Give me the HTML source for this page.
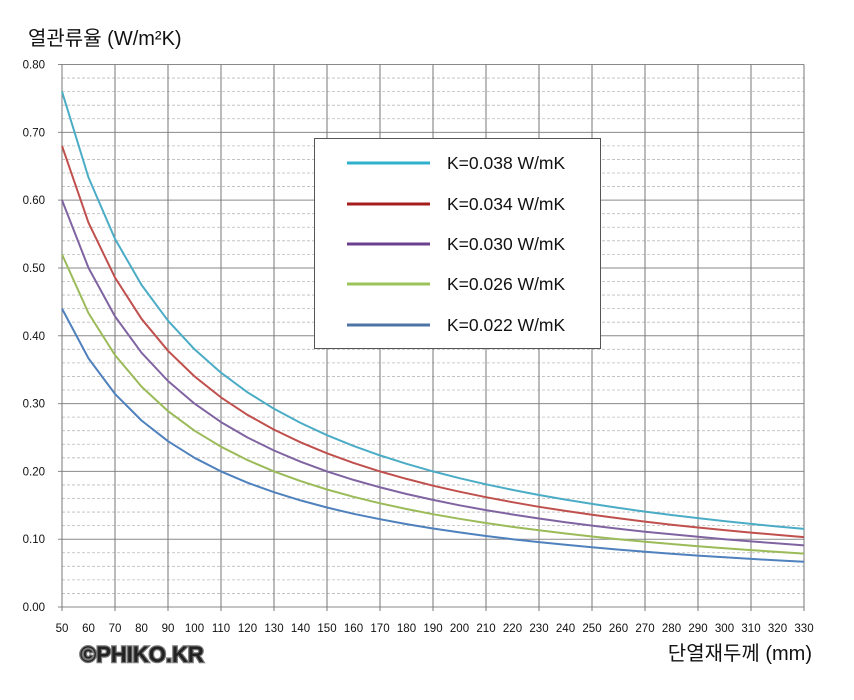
<!DOCTYPE html>
<html><head><meta charset="utf-8"><style>
body{margin:0;background:#fff;}
svg{display:block;font-family:"Liberation Sans","Noto Sans CJK KR",sans-serif;}
</style></head><body>
<svg id="s" width="854" height="700" viewBox="0 0 854 700" xmlns="http://www.w3.org/2000/svg">
<rect width="854" height="700" fill="#fff"/>
<g id="grid"></g>
<g id="series" fill="none" stroke-width="2" stroke-linejoin="round"></g>
<text x="28" y="45" font-size="20" fill="#111">열관류율 (W/m²K)</text>
<text x="812" y="660" font-size="20" fill="#111" text-anchor="end">단열재두께 (mm)</text>
<text x="80" y="662" font-size="22" font-weight="bold" fill="#222" stroke="#777" stroke-width="2.5" paint-order="stroke" font-family="Liberation Sans, sans-serif">©PHIKO.KR</text>
<rect x="314.5" y="138.5" width="286" height="210" fill="#fff" stroke="#555" stroke-width="1"/>
<g stroke-width="3">
<line x1="347" y1="163" x2="430" y2="163" stroke="#2fb0cf"/>
<line x1="347" y1="204" x2="430" y2="204" stroke="#a51c1c"/>
<line x1="347" y1="244" x2="430" y2="244" stroke="#6a3f8e"/>
<line x1="347" y1="284" x2="430" y2="284" stroke="#9bc35a"/>
<line x1="347" y1="325" x2="430" y2="325" stroke="#4e74a6"/>
</g>
<g font-size="17.5" fill="#111" xml:space="preserve">
<text x="447" y="169">K=0.038  W/mK</text>
<text x="447" y="210">K=0.034  W/mK</text>
<text x="447" y="250">K=0.030  W/mK</text>
<text x="447" y="290">K=0.026  W/mK</text>
<text x="447" y="331">K=0.022  W/mK</text>
</g>
</svg>
<script>
var X0=62,X1=804,Y0=607,Y1=64.5;
function fx(t){return X0+(t-50)/280*(X1-X0);}
function fy(v){return Y0-v/0.8*(Y0-Y1);}
var g=document.getElementById('grid'),h='';
for(var i=0;i<=40;i++){var y=fy(i*0.02);
 if(i%5==0){h+='<line x1="58" y1="'+y+'" x2="'+X1+'" y2="'+y+'" stroke="#8a8a8a" stroke-width="1"/>';
  h+='<text x="45" y="'+(y+4)+'" font-size="11.5" fill="#111" text-anchor="end">'+(i*0.02).toFixed(2)+'</text>';}
 else h+='<line x1="'+X0+'" y1="'+y+'" x2="'+X1+'" y2="'+y+'" stroke="#bbb" stroke-width="0.8" stroke-dasharray="3,2"/>';}
for(var t=50;t<=330;t+=10){var x=fx(t);
 if((t-50)%20==0)h+='<line x1="'+x+'" y1="'+Y1+'" x2="'+x+'" y2="'+(Y0+4)+'" stroke="#777" stroke-width="1"/>';
 h+='<text x="'+x+'" y="'+(Y0+25)+'" font-size="11.5" fill="#111" text-anchor="middle">'+t+'</text>';}
h+='<line x1="'+X0+'" y1="'+Y1+'" x2="'+X0+'" y2="'+Y0+'" stroke="#777"/>';
g.innerHTML=h;
var ks=[[0.038,'#4bacc6'],[0.034,'#c0504d'],[0.030,'#8064a2'],[0.026,'#9bbb59'],[0.022,'#4f81bd']];
var sg=document.getElementById('series'),s='';
ks.forEach(function(k){var p=[];for(var t=50;t<=330;t+=10)p.push(fx(t).toFixed(1)+','+fy(k[0]*1000/t).toFixed(1));
 s+='<polyline points="'+p.join(' ')+'" stroke="'+k[1]+'"/>';});
sg.innerHTML=s;
</script>
</body></html>
